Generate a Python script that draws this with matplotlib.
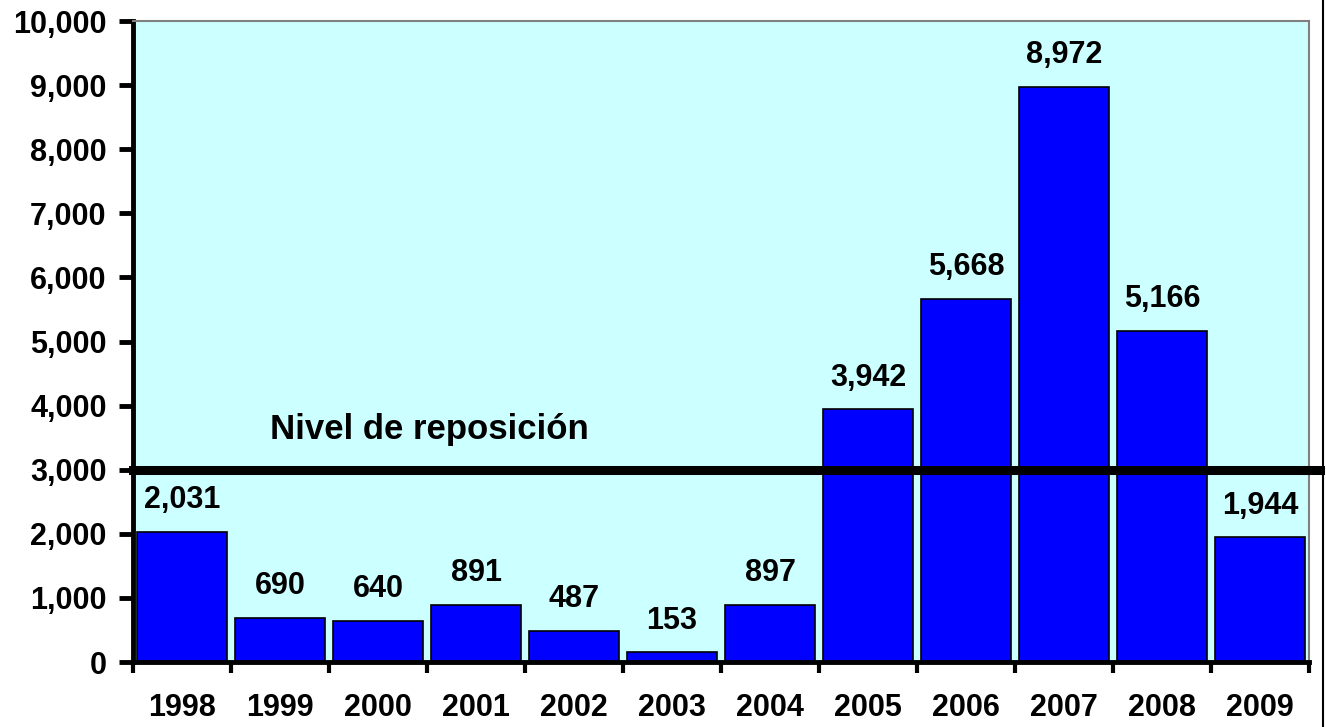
import matplotlib
matplotlib.use("Agg")
import matplotlib.pyplot as plt
from matplotlib.lines import Line2D
from matplotlib.ticker import FuncFormatter, FixedLocator

plt.rcParams['font.family'] = ['Liberation Sans', 'DejaVu Sans']
plt.rcParams['font.weight'] = 'bold'

# Data
years = ["1998", "1999", "2000", "2001", "2002", "2003",
         "2004", "2005", "2006", "2007", "2008", "2009"]
values = [2031, 690, 640, 891, 487, 153, 897, 3942, 5668, 8972, 5166, 1944]
replacement_level = 3000
line_label = "Nivel de reposición"

fig = plt.figure(figsize=(13.26, 7.27), dpi=100)
ax = fig.add_axes([133/1326, 1 - 662/727, 1176/1326, 641/727])
ax.set_facecolor("#CCFFFF")

x = list(range(len(years)))
ax.bar(x, values, width=0.91, color="#0000FF", edgecolor="black", linewidth=1.2, zorder=2)

# value labels above bars
for xi, v in zip(x, values):
    ax.annotate(f"{v:,}", (xi, v), xytext=(0, 12), textcoords="offset points",
                ha="center", va="bottom", fontsize=22, fontweight="bold")

# replacement level line, running a bit past the right edge
ax.axhline(replacement_level, xmin=0, xmax=1.0094, color="black", linewidth=6.5,
           clip_on=False, zorder=3)
ax.text(0.9, 3630, line_label, fontsize=25, fontweight="bold", va="center", ha="left")

ax.set_xlim(-0.5, len(years) - 0.5)
ax.set_ylim(0, 10000)
ax.set_yticks(range(0, 10001, 1000))
ax.yaxis.set_major_formatter(FuncFormatter(lambda v, p: f"{int(v):,}"))

# ticks between categories, labels at centres
ax.xaxis.set_major_locator(FixedLocator([i - 0.5 for i in range(len(years) + 1)]))
ax.xaxis.set_minor_locator(FixedLocator(x))
ax.set_xticklabels([], minor=False)
ax.set_xticklabels(years, minor=True)
ax.tick_params(axis="x", which="major", direction="out", length=8, width=3, color="black")
ax.tick_params(axis="x", which="minor", length=0, pad=22, labelsize=22)
ax.tick_params(axis="y", direction="out", length=10, width=3.5, pad=9, labelsize=22)
for lab in ax.get_xticklabels(minor=True) + ax.get_yticklabels():
    lab.set_fontweight("bold")

for side in ["left", "bottom"]:
    ax.spines[side].set_linewidth(3.5)
    ax.spines[side].set_color("black")
for side in ["top", "right"]:
    ax.spines[side].set_linewidth(1.5)
    ax.spines[side].set_color("#808080")

# border line on the right edge of the picture
fig.add_artist(Line2D([1322.5/1326, 1322.5/1326], [0, 1], color="black", linewidth=1.5))

fig.savefig("out.png", dpi=100)
